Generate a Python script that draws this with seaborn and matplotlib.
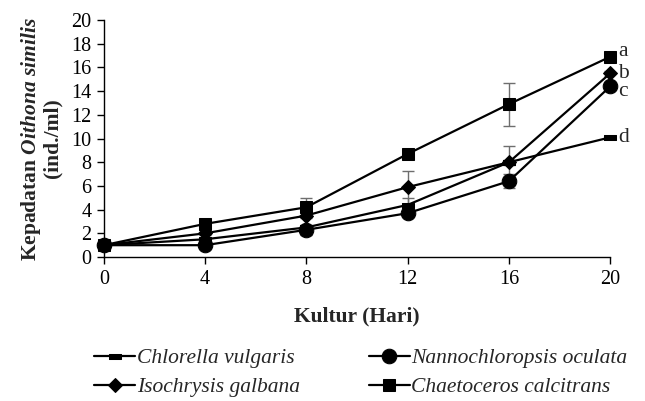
import matplotlib
matplotlib.use("Agg")
import matplotlib.pyplot as plt
import seaborn as sns
import pandas as pd

# Data
hari = [0, 4, 8, 12, 16, 20]
chlorella = [1.0, 1.5, 2.5, 4.4, 8.0, 10.1]
nanno = [1.0, 1.0, 2.3, 3.7, 6.4, 14.4]
isochrysis = [1.0, 2.0, 3.5, 5.9, 8.0, 15.5]
chaetoceros = [1.0, 2.8, 4.2, 8.7, 12.9, 16.9]

err_chlorella = [0.1, 0.1, 0.2, 0.6, 0.2, 0.1]
err_nanno = [0.1, 0.1, 0.4, 0.2, 0.6, 0.3]
err_isochrysis = [0.1, 0.1, 0.2, 1.4, 1.4, 0.2]
err_chaetoceros = [0.1, 0.2, 0.8, 0.2, 1.8, 0.2]

nama = ["Chlorella vulgaris", "Nannochloropsis oculata", "Isochrysis galbana", "Chaetoceros calcitrans"]
huruf = ["d", "c", "b", "a"]

sns.set_style("ticks")
plt.rcParams["font.family"] = ["Liberation Serif", "DejaVu Serif"]
plt.rcParams["mathtext.fontset"] = "custom"
plt.rcParams["mathtext.rm"] = "Liberation Serif:bold"
plt.rcParams["mathtext.it"] = "Liberation Serif:italic:bold"

fig = plt.figure(figsize=(6.45, 4.01), dpi=100)
ax = fig.add_axes([0.161, 0.359, 0.785, 0.591])

dash = [(-1, -0.4), (1, -0.4), (1, 0.4), (-1, 0.4), (-1, -0.4)]
gaya = {
    "Chlorella vulgaris": dict(marker=dash, markersize=9),
    "Nannochloropsis oculata": dict(marker="o", markersize=10.5),
    "Isochrysis galbana": dict(marker="D", markersize=7),
    "Chaetoceros calcitrans": dict(marker="s", markersize=8.5),
}
nilai = [chlorella, nanno, isochrysis, chaetoceros]
galat = [err_chlorella, err_nanno, err_isochrysis, err_chaetoceros]

for n, y, e in zip(nama, nilai, galat):
    ax.errorbar(hari, y, yerr=e, fmt="none", ecolor="#6e6e6e", elinewidth=1, capsize=4, capthick=1, zorder=1)
    df = pd.DataFrame({"hari": hari, "nilai": y})
    sns.lineplot(data=df, x="hari", y="nilai", ax=ax, color="black", linewidth=1.6,
                 markeredgecolor="black", markerfacecolor="black", label=n, zorder=3,
                 clip_on=False, **gaya[n])

for n, y, h, dy in zip(nama, nilai, huruf, [0, -4, 0, 4]):
    ax.annotate(h, (20, y[-1]), xytext=(6, dy), textcoords="offset points",
                fontsize=15.5, va="center", ha="left")

ax.set_xlim(0, 20)
ax.set_ylim(0, 20)
ax.set_xticks([0, 4, 8, 12, 16, 20])
ax.set_yticks(range(0, 21, 2))
ax.tick_params(labelsize=14.5, direction="out", length=5, width=1, colors="black", pad=4)
for s in ["left", "bottom"]:
    ax.spines[s].set_color("black")
    ax.spines[s].set_linewidth(1)
sns.despine(ax=ax)
ax.set_xlabel("Kultur (Hari)", fontsize=15.5, fontweight="bold", labelpad=13)
ax.set_ylabel("Kepadatan $\\mathit{Oithona\\ similis}$\n(ind./ml)", fontsize=15.5,
              fontweight="bold", labelpad=6, linespacing=1.0)

h, l = ax.get_legend_handles_labels()
ax.get_legend().remove()
urut = [0, 2, 1, 3]
fig.legend([h[i] for i in urut], [l[i] for i in urut], ncol=2, frameon=False,
           loc="upper left", bbox_to_anchor=(0.146, 1 - 348 / 401),
           prop={"style": "italic", "size": 15.5}, handlelength=1.9, handletextpad=0.08,
           columnspacing=3.2, labelspacing=0.43, borderpad=0, borderaxespad=0)

fig.savefig("out.png", dpi=100)
